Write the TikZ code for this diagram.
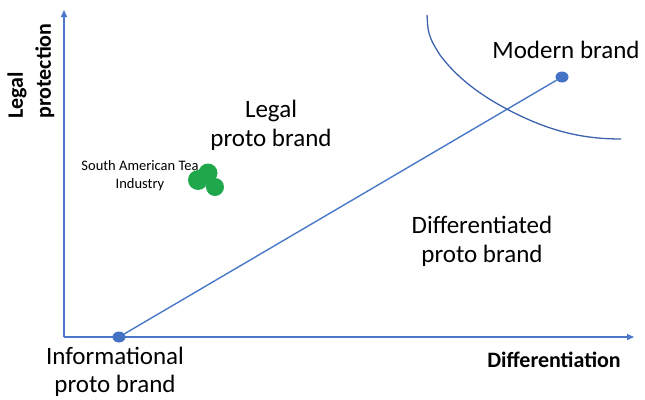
\documentclass[tikz,border=0pt]{standalone}
\usepackage{fontspec}
\setmainfont{Carlito}
\usetikzlibrary{arrows.meta,shapes.geometric}
\definecolor{axisblue}{HTML}{4A78C8}
\definecolor{curveblue}{HTML}{3D62AE}
\definecolor{dotblue}{HTML}{4472C4}
\definecolor{teagreen}{HTML}{1EA84B}
\tikzset{
  axis/.style={draw=axisblue, line width=1.5pt, -{Triangle[length=7pt,width=6pt]}},
  lbl/.style={font=\fontsize{25}{29}\selectfont, align=center, inner sep=0pt},
  axlbl/.style={font=\fontsize{22}{28}\selectfont\bfseries, inner sep=0pt},
  dot/.style={fill=dotblue, draw=none, ellipse, minimum width=13pt, minimum height=11pt, inner sep=0pt},
  blob/.style={fill=teagreen, draw=none, circle, inner sep=0pt}
}
\begin{document}
\begin{tikzpicture}[x=1pt,y=-1pt]
\useasboundingbox (0,0) rectangle (645,399);
\coordinate (O) at (64,337);
\coordinate (ytip) at (64,10);
\coordinate (xtip) at (634,337);
\draw[axis] (O) -- (ytip);
\draw[axis] (O) -- (xtip);
\node[dot] (info) at (119,337) {};
\node[dot] (modern) at (562,77) {};
\draw[draw=axisblue, line width=1.4pt] (info) -- (modern);
\draw[draw=curveblue, line width=1.3pt] (427,15) .. controls (428,30) and (427,35) .. (440,55)
  .. controls (460,82) and (490,102) .. (525,118)
  .. controls (560,134) and (590,139) .. (621,139);
\node[lbl] (modernlbl) at (566,50) {Modern brand};
\node[lbl] (legal) at (271,125) {Legal\\proto brand};
\node[lbl] (diff) at (482,241) {Differentiated\\proto brand};
\node[lbl, font=\fontsize{25}{28}\selectfont] (infolbl) at (115,372) {Informational\\proto brand};
\node[axlbl, anchor=east] (xlbl) at (621,360) {Differentiation};
\node[axlbl, rotate=90, align=left, anchor=west] (ylbl) at (31,119) {Legal\\protection};
\node[font=\fontsize{14.5}{18}\selectfont, align=center, inner sep=0pt] (tea) at (140,176) {South American Tea\\Industry};
\node[blob, minimum size=20pt] (b1) at (198,180) {};
\node[blob, minimum size=19pt] (b2) at (208,173) {};
\node[blob, minimum size=18pt] (b3) at (215,187) {};
\end{tikzpicture}
\end{document}
